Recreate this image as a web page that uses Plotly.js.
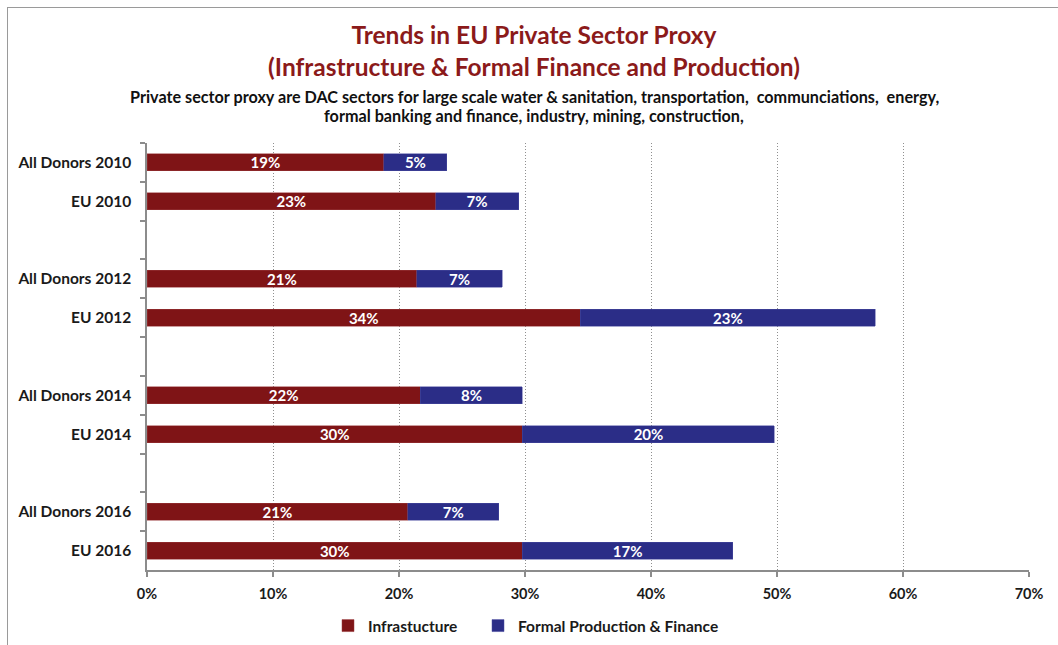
<!DOCTYPE html>
<html>
<head>
<meta charset="utf-8">
<script src="https://cdn.plot.ly/plotly-3.0.1.min.js"></script>
<style>
  html, body { margin: 0; padding: 0; background: #fff; overflow: hidden; }
  #frame { position: absolute; left: 7px; top: 7px; width: 1100px; height: 700px; border: 1.5px solid #9a9a9a; box-sizing: border-box; }
  #chart { position: absolute; left: 0; top: 0; width: 1058px; height: 645px; }
</style>
</head>
<body>
<div id="frame"></div>
<div id="chart"></div>
<script>
// Categories (blank entries are spacer slots between year groups)
const categories = ["All Donors 2010", "EU 2010", " ",
                    "All Donors 2012", "EU 2012", "  ",
                    "All Donors 2014", "EU 2014", "   ",
                    "All Donors 2016", "EU 2016"];
// Shares (fraction of total)
const infrastructure = [0.188, 0.229, null, 0.214, 0.344, null, 0.217, 0.298, null, 0.207, 0.298];
const formalProduction = [0.050, 0.066, null, 0.068, 0.234, null, 0.081, 0.200, null, 0.072, 0.167];
const xTickVals = [0, 0.1, 0.2, 0.3, 0.4, 0.5, 0.6, 0.7];
const seriesNames = ["Infrastucture", "Formal Production & Finance"];

const FONT = "Lato, 'Open Sans', sans-serif";

const traces = [
  {
    type: "bar", orientation: "h", name: seriesNames[0], legend: "legend",
    y: categories, x: infrastructure,
    marker: { color: "#7f1416", line: { color: "#9a3a3c", width: 0.5 } },
    texttemplate: "%{x:.0%}", textposition: "inside", insidetextanchor: "middle",
    textangle: 0, constraintext: "none",
    insidetextfont: { color: "#ffffff", size: 15, family: FONT, weight: "bold" },
    hoverinfo: "x+y"
  },
  {
    type: "bar", orientation: "h", name: seriesNames[1], legend: "legend2",
    y: categories, x: formalProduction,
    marker: { color: "#2b2d87", line: { color: "#4a4ca0", width: 0.5 } },
    texttemplate: "%{x:.0%}", textposition: "inside", insidetextanchor: "middle",
    textangle: 0, constraintext: "none",
    insidetextfont: { color: "#ffffff", size: 15, family: FONT, weight: "bold" },
    hoverinfo: "x+y"
  }
];

const legendFont = { family: FONT, size: 15.5, color: "#1a1a1a", weight: "bold" };

const layout = {
  width: 1058, height: 645,
  margin: { l: 147, r: 29, t: 143, b: 75 },
  paper_bgcolor: "rgba(0,0,0,0)",
  plot_bgcolor: "rgba(0,0,0,0)",
  barmode: "stack",
  bargap: 0.56,
  showlegend: true,
  font: { family: FONT, color: "#1a1a1a" },
  title: {
    text: "Trends in EU Private Sector Proxy<br>(Infrastructure & Formal Finance and Production)",
    font: { family: FONT, size: 24.5, color: "#8b1a1a", weight: "bold" },
    xref: "paper", x: 0.4388, xanchor: "center",
    yref: "container", y: 0.932, yanchor: "top"
  },
  annotations: [
    {
      text: "Private sector proxy are DAC sectors for large scale water & sanitation, transportation,  communciations,  energy,",
      xref: "paper", yref: "paper", x: 0.4388, y: (570 - 96) / 427,
      xanchor: "center", yanchor: "middle", showarrow: false,
      font: { family: FONT, size: 16.2, color: "#111", weight: "bold" }
    },
    {
      text: "formal banking and finance, industry, mining, construction,",
      xref: "paper", yref: "paper", x: 0.4388, y: (570 - 116) / 427,
      xanchor: "center", yanchor: "middle", showarrow: false,
      font: { family: FONT, size: 16.2, color: "#111", weight: "bold" }
    },
    {
      text: "Chart 6.1",
      xref: "paper", yref: "paper", x: (5 - 147) / 882, y: (570 - 6) / 427,
      xanchor: "left", yanchor: "bottom", showarrow: false,
      font: { family: FONT, size: 21, color: "#111", weight: "bold" }
    }
  ],
  xaxis: {
    range: [0, 0.7],
    tickvals: xTickVals,
    tickformat: ".0%",
    showgrid: true, gridcolor: "#8f8f8f", griddash: "1px,2px", gridwidth: 1,
    zeroline: false,
    showline: true, linecolor: "#8c8c8c", linewidth: 1.5,
    ticks: "outside", ticklen: 5, tickcolor: "#8c8c8c", tickwidth: 1.5,
    tickfont: { family: FONT, size: 14.5, color: "#1a1a1a", weight: "bold" },
    ticklabelstandoff: 5,
    fixedrange: true
  },
  yaxis: {
    type: "category",
    categoryorder: "array", categoryarray: categories,
    range: [10.5, -0.5],
    tickson: "boundaries",
    ticks: "outside", ticklen: 5, tickcolor: "#8c8c8c", tickwidth: 1.5,
    showline: true, linecolor: "#8c8c8c", linewidth: 1.5,
    showgrid: false, zeroline: false,
    tickfont: { family: FONT, size: 15.5, color: "#1a1a1a", weight: "bold" },
    ticklabelstandoff: 11,
    fixedrange: true
  },
  legend: {
    orientation: "h",
    xref: "container", yref: "container",
    x: 328 / 1058, xanchor: "left",
    y: 1 - 626 / 645, yanchor: "middle",
    font: legendFont, itemwidth: 30
  },
  legend2: {
    orientation: "h",
    xref: "container", yref: "container",
    x: 478 / 1058, xanchor: "left",
    y: 1 - 626 / 645, yanchor: "middle",
    font: legendFont, itemwidth: 30
  }
};

Plotly.newPlot("chart", traces, layout, { displayModeBar: false });
</script>
</body>
</html>
